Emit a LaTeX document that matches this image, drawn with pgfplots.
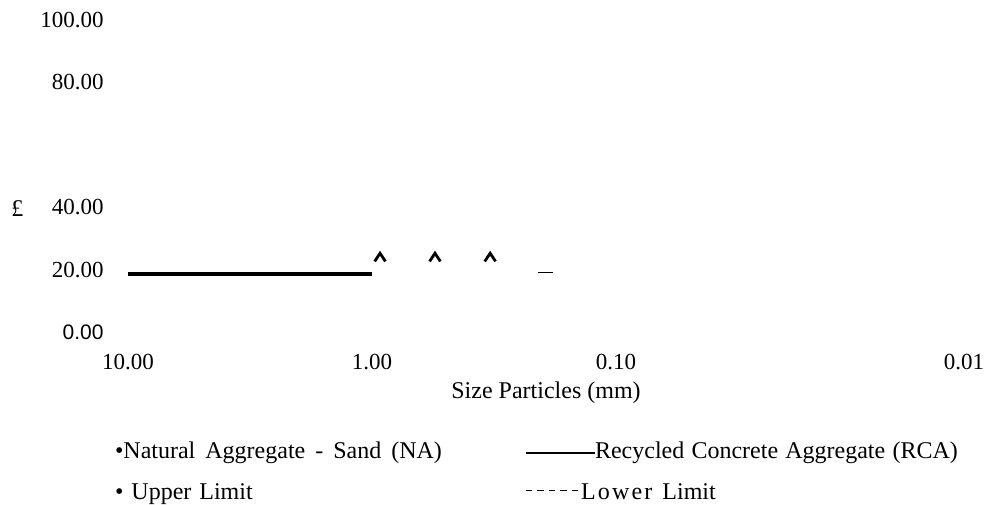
\documentclass[border=0pt]{standalone}
\usepackage{fontspec}
\setmainfont{Liberation Serif}
\newfontfamily\arialfont{Liberation Sans}
\usepackage{pgfplots}
\pgfplotsset{compat=1.18}
\pgfdeclareplotmark{caret}{%
  \pgfpathmoveto{\pgfqpoint{-2.7pt}{-2.0pt}}%
  \pgfpathlineto{\pgfqpoint{0pt}{2.1pt}}%
  \pgfpathlineto{\pgfqpoint{2.7pt}{-2.0pt}}%
  \pgfusepathqstroke}
\newcommand\dsh{\rule[4pt]{3.2pt}{0.7pt}}
\newcommand\lsp{\hspace{1.1pt}}
\begin{document}
\fontsize{12pt}{14pt}\selectfont
\begin{tikzpicture}
\path[use as bounding box] (-64pt,-86pt) rectangle (430.5pt,166pt);
\begin{axis}[
  at={(0,0)}, anchor=south west,
  scale only axis, width=418pt, height=156pt,
  xmode=log, x dir=reverse, xmin=0.00375, xmax=10,
  ymin=0, ymax=100,
  axis line style={draw=none},
  major tick length=0pt, minor tick length=0pt,
  xtick={10,1,0.1,0.00375}, xticklabels={10.00,1.00,0.10,0.01},
  ytick={0,20,40,80,100},
  yticklabels={{\arialfont\fontsize{10.5pt}{12pt}\selectfont 0.00},20.00,40.00,80.00,100.00},
  xticklabel style={font=\fontsize{11.5pt}{13pt}\selectfont, anchor=center, inner sep=0pt, yshift=-15pt},
  yticklabel style={font=\fontsize{11.5pt}{13pt}\selectfont, anchor=east, inner sep=0pt, xshift=-12pt},
  xlabel={Size Particles (mm)},
  xlabel style={font=\fontsize{12pt}{14pt}\selectfont, at={(axis description cs:0.5,0)}, anchor=center, yshift=-30.5pt},
  ylabel={£},
  ylabel style={font=\fontsize{12pt}{14pt}\selectfont, at={(axis description cs:-0.1322,0.397)}, anchor=center, rotate=-90},
  legend columns=2,
  legend cell align=left,
  legend image code/.code={},
  legend style={draw=none, fill=none, inner sep=0pt, outer sep=0pt,
    at={(axis description cs:-0.0155,-0.3526)}, anchor=north west,
    row sep=10.6pt, column sep=0pt,
    nodes={inner sep=0pt, outer sep=0pt},
    font=\fontsize{12pt}{14pt}\selectfont,
    /tikz/column 2/.style={text width=205.5pt}},
]
\addplot[black, line width=1.6pt, forget plot] coordinates {(10,18.6) (1,18.6)};
\addplot[black, only marks, mark=caret, mark options={line width=1.4pt}, forget plot]
  coordinates {(0.927,23.9) (0.552,23.9) (0.328,23.9)};
\addplot[black, line width=0.7pt, forget plot] coordinates {(0.209,19.0) (0.181,19.0)};

\addlegendimage{empty legend}
\addlegendentry{{\spaceskip=5pt\relax \textbullet Natural Aggregate - Sand (NA)}}
\addlegendimage{empty legend}
\addlegendentry{{\spaceskip=3.6pt\relax\rule[2.2pt]{34.5pt}{1.1pt}Recycled Concrete Aggregate (RCA)}}
\addlegendimage{empty legend}
\addlegendentry{\textbullet\hspace{4pt}Upper Limit}
\addlegendimage{empty legend}
\addlegendentry{\dsh\hspace{2.5pt}\dsh\hspace{2.5pt}\dsh\hspace{2.5pt}\dsh\hspace{2.5pt}\dsh\hspace{1.5pt}L\lsp o\lsp w\lsp e\lsp r\hspace{5pt}Limit}
\end{axis}
\end{tikzpicture}
\end{document}
